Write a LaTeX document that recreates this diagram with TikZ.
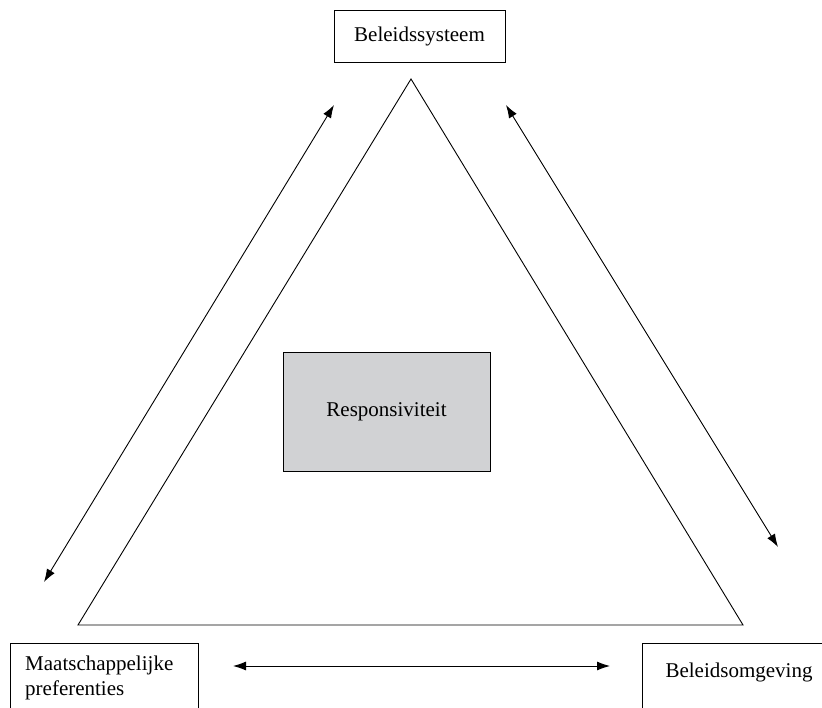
\documentclass[tikz,border=0pt]{standalone}
\usepackage{fontspec}
\setmainfont{Liberation Serif}
\usetikzlibrary{arrows.meta}
\definecolor{boxgrey}{HTML}{D1D2D4}
\tikzset{
  lbl/.style={draw=black, line width=0.9pt, inner sep=0pt, font=\fontsize{21}{25}\selectfont},
  txt/.style={inner sep=0pt, font=\fontsize{21}{25}\selectfont},
  dbl/.style={line width=0.9pt, {Latex[length=13pt,width=9pt]}-{Latex[length=13pt,width=9pt]}},
  tri/.style={line width=0.9pt}
}
\begin{document}
\begin{tikzpicture}[x=1pt,y=-1pt]
\useasboundingbox (0,0) rectangle (822,708);
\clip (0,0) rectangle (822,708);
\fill[white] (0,0) rectangle (822,708);
% triangle
\draw[tri] (411,79) -- (78,625) -- (743,625) -- cycle;
% boxes
\node[lbl, minimum width=171pt, minimum height=52pt] (top) at (419.5,36) {Beleidssysteem};
\node[lbl, fill=boxgrey, minimum width=207pt, minimum height=119pt] (resp) at (386.5,411.5) {Responsiviteit};
\node[lbl, minimum width=188pt, minimum height=80pt] (left) at (104,683) {};
\node[txt, anchor=base west] (lefta) at (25,670) {Maatschappelijke};
\node[txt, anchor=base west] (leftb) at (25,695) {preferenties};
\node[lbl, minimum width=194pt, minimum height=80pt] (right) at (739,683) {};
\node[txt, anchor=base] (righta) at (739,677) {Beleidsomgeving};
% connectors
\coordinate (l1) at (334,105);
\coordinate (l2) at (44,582);
\coordinate (r1) at (506,105);
\coordinate (r2) at (778,547);
\coordinate (b1) at (233,666);
\coordinate (b2) at (610,666);
\draw[dbl] (l1) -- (l2);
\draw[dbl] (r1) -- (r2);
\draw[dbl] (b1) -- (b2);
\end{tikzpicture}
\end{document}
